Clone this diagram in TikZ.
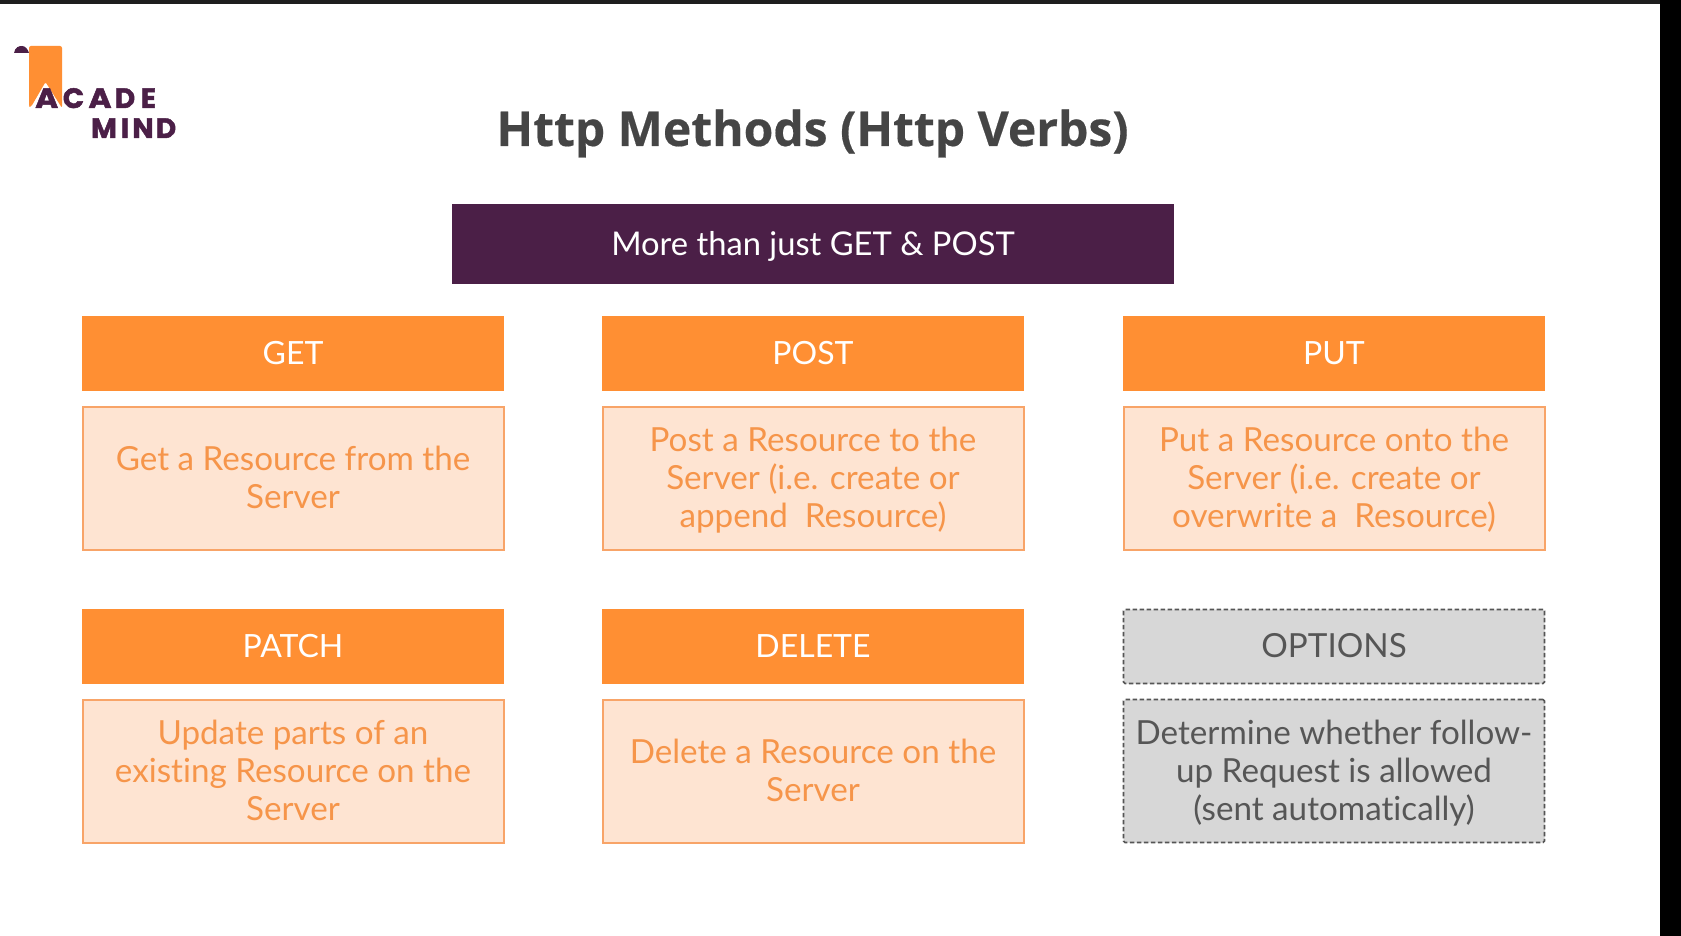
\documentclass[tikz,border=0pt]{standalone}
\usepackage{fontspec}
\setmainfont{Lato}[Ligatures=NoCommon]
\newfontfamily\titlefont{Open Sans}[BoldFont={Open Sans Bold},BoldFeatures={FakeBold=0.4}]
\newfontfamily\logofont{Poppins}[BoldFont={Poppins Bold},BoldFeatures={FakeBold=1.6}]
\newcommand{\vstrut}{\rule[-8pt]{0pt}{38pt}}
\definecolor{hdrorange}{HTML}{FF8F33}
\definecolor{paleorange}{HTML}{FEE4D2}
\definecolor{edgeorange}{HTML}{F8A468}
\definecolor{txtorange}{HTML}{F6954A}
\definecolor{plum}{HTML}{4B1F47}
\definecolor{panelgrey}{HTML}{D7D7D7}
\definecolor{dashgrey}{HTML}{555555}
\definecolor{txtgrey}{HTML}{565656}
\definecolor{titlegrey}{HTML}{454545}
\definecolor{barblack}{HTML}{1E1E1E}
\tikzset{
  every node/.style={inner sep=0pt,outer sep=0pt,align=center},
  struts/.style={execute at begin node=\vstrut,execute at end node=\vstrut},
  dtext/.style={text depth=0.6pt},
  hdrbox/.style={struts,fill=hdrorange,text=white,minimum width=422pt,minimum height=75pt,font=\fontsize{32}{38}\selectfont},
  descbox/.style={dtext,fill=paleorange,draw=edgeorange,line width=2pt,text=txtorange,minimum width=421pt,minimum height=143pt,font=\fontsize{33.2}{38}\selectfont},
  optbox/.style={fill=panelgrey,draw=dashgrey,line width=1.6pt,dash pattern=on 4.5pt off 2.5pt,rounded corners=1.5pt,text=txtgrey,minimum width=421pt,font=\fontsize{33.2}{38}\selectfont},
  logotxt/.style={text=plum,font=\logofont\bfseries\fontsize{28}{28}\selectfont,anchor=base},
}
\begin{document}
\begin{tikzpicture}[x=1pt,y=-1pt]
\useasboundingbox (0,0) rectangle (1681,936);
\fill[white] (0,0) rectangle (1681,936);
\fill[barblack] (0,0) rectangle (1681,4);
\fill[black] (1660,0) rectangle (1681,936);
% logo
\fill[hdrorange,rounded corners=2pt] (29,46) -- (62,46) -- (62,108) -- (45.5,82) -- (31,107) -- (29,107) -- cycle;
\fill[plum] (14,53) .. controls (15,47) and (19,46) .. (22,46) .. controls (25,46) and (28,49) .. (29,53) -- cycle;
\node[logotxt,xscale=1.12] (logoa) at (46.7,108) {A};
\node[logotxt] (logoc) at (73.5,108) {C};
\node[logotxt,xscale=1.12] (logoa2) at (100,108) {A};
\node[logotxt] (logod) at (125,108) {D};
\node[logotxt] (logoe) at (148.5,108) {E};
\node[logotxt] (logom) at (104,138) {M};
\node[logotxt] (logoi) at (125,138) {I};
\node[logotxt] (logon) at (143,138) {N};
\node[logotxt] (logod2) at (166,138) {D};
% title
\node[text=titlegrey,font=\titlefont\bfseries\fontsize{48}{56}\selectfont] (title) at (812.5,133.5) {Http Methods (Http Verbs)};
\node[struts,fill=plum,text=white,minimum width=722pt,minimum height=80pt,font=\fontsize{32.7}{38}\selectfont] (banner) at (813,244) {More than just GET \& POST};
% row 1
\node[hdrbox] (get) at (293,353) {GET};
\node[hdrbox] (post) at (813,353) {POST};
\node[hdrbox] (put) at (1334,353) {PUT};
\node[descbox] (getd) at (293,478) {Get a Resource from the\\Server};
\node[descbox] (postd) at (813,478) {Post a Resource to the\\Server (i.e. create or\\append\ \ Resource)};
\node[descbox] (putd) at (1334,478) {Put a Resource onto the\\Server (i.e. create or\\overwrite a\ \ Resource)};
% row 2
\node[hdrbox] (patch) at (293,646) {PATCH};
\node[hdrbox] (delete) at (813,646) {DELETE};
\node[optbox,struts,minimum height=74pt] (options) at (1334,646.5) {OPTIONS};
\node[descbox] (patchd) at (293,771) {Update parts of an\\existing Resource on the\\Server};
\node[descbox] (deleted) at (813,771) {Delete a Resource on the\\Server};
\node[optbox,dtext,minimum height=143pt] (optionsd) at (1334,771) {Determine whether follow-\\up Request is allowed\\(sent automatically)};
\end{tikzpicture}
\end{document}
